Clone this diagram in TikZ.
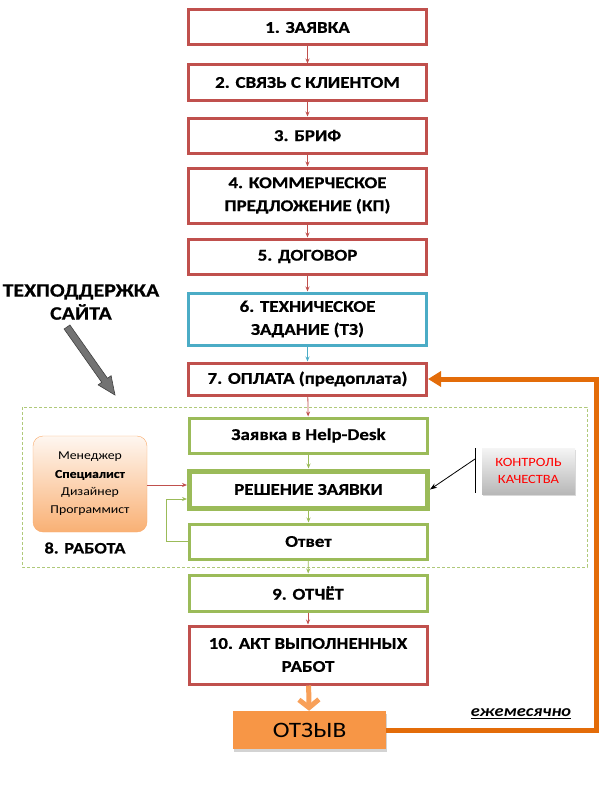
\documentclass[tikz,border=0pt]{standalone}
\usepackage{fontspec}
\setmainfont{Carlito}[FakeStretch=1.15, BoldFeatures={FakeBold=0.5}]
\usetikzlibrary{arrows.meta,shadows,calc}
\definecolor{cred}{RGB}{192,80,77}
\definecolor{cblue}{RGB}{75,172,198}
\definecolor{cgreen}{RGB}{155,187,89}
\definecolor{corange}{RGB}{247,150,70}
\definecolor{cdorange}{RGB}{227,108,9}
\begin{document}
\begin{tikzpicture}[x=1pt,y=-1pt,
  stepbox/.style={draw, line width=3pt, fill=white, minimum width=238pt, minimum height=35pt,
    align=center, inner sep=2pt, font=\fontsize{16.5}{23}\selectfont\bfseries},
  redbox/.style={stepbox, draw=cred},
  bluebox/.style={stepbox, draw=cblue},
  greenbox/.style={stepbox, draw=cgreen},
  tarr/.style={-{Stealth[length=5pt,width=4pt]}, line width=0.8pt},
  redarr/.style={tarr, draw=cred},
  greenarr/.style={tarr, draw=cgreen},
  bluearr/.style={tarr, draw=cblue},
  loopline/.style={line width=5pt, draw=cdorange, -{Triangle[length=13pt,width=15pt]}},
]
\useasboundingbox (0,0) rectangle (600,800);

% work area
\draw[cgreen!80, dash pattern=on 3pt off 2pt, line width=0.8pt] (22,407) rectangle (587,567);

\node[redbox] (b1) at (307.5,27.5) {1. ЗАЯВКА};
\node[redbox] (b2) at (307.5,82.5) {2. СВЯЗЬ С КЛИЕНТОМ};
\node[redbox] (b3) at (307.5,135.5) {3. БРИФ};
\node[redbox, minimum height=55pt] (b4) at (307.5,195.5) {4. КОММЕРЧЕСКОЕ\\ПРЕДЛОЖЕНИЕ (КП)};
\node[redbox] (b5) at (307.5,256.5) {5. ДОГОВОР};
\node[bluebox, minimum height=52pt] (b6) at (307.5,319) {6. ТЕХНИЧЕСКОЕ\\ЗАДАНИЕ (ТЗ)};
\node[redbox, minimum height=32pt] (b7) at (307.5,379) {7. ОПЛАТА (предоплата)};
\node[greenbox] (hd) at (308.5,435.5) {Заявка в Help-Desk};
\node[greenbox, line width=5pt, minimum height=37pt] (rs) at (308.5,489.5) {РЕШЕНИЕ ЗАЯВКИ};
\node[greenbox] (ot) at (308.5,541.5) {Ответ};
\node[greenbox, minimum height=36pt] (b9) at (308,593) {9. ОТЧЁТ};
\node[redbox, minimum height=58pt] (b10) at (308,655) {10. АКТ ВЫПОЛНЕННЫХ\\РАБОТ};
\node[fill=corange, minimum width=153pt, minimum height=38pt, font=\fontsize{22}{24}\selectfont,
  drop shadow={opacity=0.35, shadow xshift=1pt, shadow yshift=-3pt}] (otz) at (309.5,730) {ОТЗЫВ};

% connectors
\draw[redarr] (b1) -- (b2);
\draw[redarr] (b2) -- (b3);
\draw[redarr] (b3) -- (b4);
\draw[redarr] (b4) -- (b5);
\draw[redarr] (b5) -- (b6);
\draw[bluearr] (b6) -- (b7);
\draw[redarr] (b7) -- (hd);
\draw[greenarr] (hd) -- (rs);
\draw[greenarr] (rs) -- (ot);
\draw[greenarr] (ot) -- (b9);
\draw[redarr] (b9) -- (b10);
\draw[line width=5pt, draw=corange!90, -{Straight Barb[length=8pt,width=20pt]}] (b10) -- (otz);

% monthly loop
\coordinate (rc) at (596,379);
\draw[loopline] (otz.east) -| (rc) -- (b7.east);
\node[font=\fontsize{16}{18}\selectfont\bfseries\itshape] (mon) at (521,714) {\underline{ежемесячно}};

% staff box
\node[draw=corange!80, rounded corners=10pt, top color=corange!8, bottom color=corange!75,
  minimum width=114pt, minimum height=96pt, align=center,
  font=\fontsize{12}{18}\selectfont] (men) at (90,484)
  {Менеджер\\\textbf{Специалист}\\Дизайнер\\Программист};
\node[font=\fontsize{16}{18}\selectfont\bfseries] (rab) at (85,548) {8. РАБОТА};
\draw[redarr] (men.east |- 0,485) coordinate (me) -- (me -| rs.west);
\coordinate (gl) at (166,499);
\draw[greenarr] (ot.west) -| (gl) -- (gl -| rs.west);

% quality control
\node[top color=black!4, bottom color=black!28, minimum width=93pt, minimum height=46pt,
  align=center, text=red, font=\fontsize{12.6}{17}\selectfont,
  drop shadow={opacity=0.3, shadow xshift=1pt, shadow yshift=-2pt}] (qc) at (528.5,471) {КОНТРОЛЬ\\КАЧЕСТВА};
\coordinate (qt) at (475,448);
\coordinate (qb) at (475,493);
\draw[line width=1pt] (qt) -- (qb);
\coordinate (qa) at (475,459);
\draw[-{Stealth[length=7pt,width=5pt]}, line width=0.8pt] (qa) -- (rs.east);

% tech support
\node[font=\fontsize{19}{23}\selectfont\bfseries, align=center] (ts) at (81,302) {ТЕХПОДДЕРЖКА\\САЙТА};
\draw[fill=black!55, draw=black!75, line width=0.6pt]
  (69.9,325.0) -- (107.5,378.3) -- (111.1,375.7) -- (115,395) -- (98.1,384.9) -- (101.7,382.3) -- (64.1,329.0) -- cycle;
\end{tikzpicture}
\end{document}
